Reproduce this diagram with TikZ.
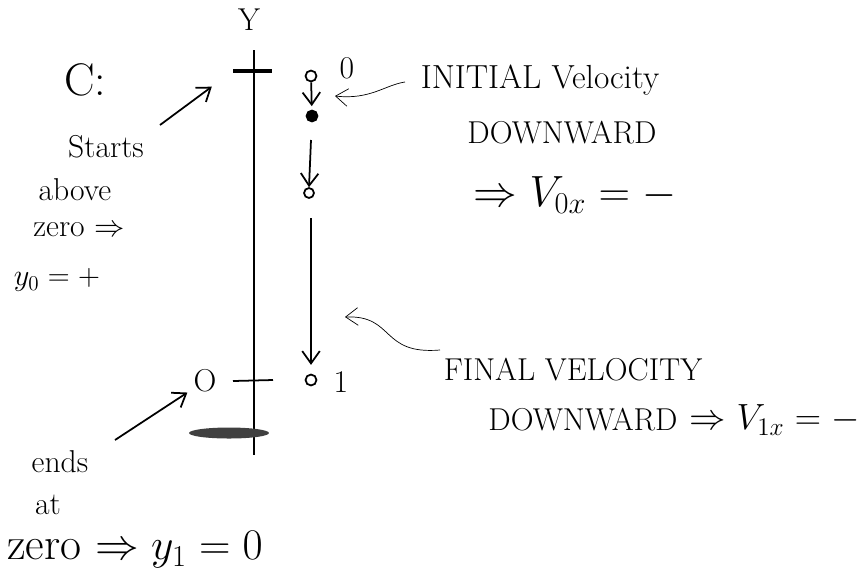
\documentclass[tikz,border=0pt]{standalone}
\usetikzlibrary{arrows.meta,shapes.geometric}
\begin{document}
\begin{tikzpicture}[x=0.02cm,y=-0.02cm,
  hand/.style={font=\fontsize{18}{22}\selectfont},
  big/.style={font=\fontsize{26}{30}\selectfont},
  pen/.style={line width=1pt},
  barb/.style={pen,-{Straight Barb[length=7pt,width=10pt]}},
  dot/.style={circle,draw,pen,inner sep=2.2pt}]
\useasboundingbox (0,0) rectangle (864,586);
% y axis with two ticks and the ground
\node[hand] (ylab) at (249,20) {Y};
\coordinate (axtop) at (254,50);
\coordinate (axbot) at (254,455);
\draw[pen] (axtop) -- (axbot);
\coordinate (hiL) at (233,71);
\coordinate (hiR) at (272,71);
\draw[line width=2.5pt] (hiL) -- (hiR);
\coordinate (loL) at (233,381);
\coordinate (loR) at (273,380);
\draw[pen] (loL) -- (loR);
\node[hand] (zlab) at (205,381) {O};
\node[ellipse,fill=black!75,inner sep=0pt,
  minimum width=1.6cm,minimum height=0.22cm] (ground) at (229,433) {};
% positions of the object
\node[dot] (p0) at (311,76) {};
\node[hand] (p0lab) at (347,68) {0};
\node[dot,fill=black] (pm) at (312,116) {};
\draw[barb,shorten >=2pt] (p0) -- (pm);
\coordinate (a1) at (311,140);
\node[dot,inner sep=2pt] (pq) at (309,193) {};
\draw[barb] (a1) -- (pq.north);
\coordinate (a2) at (311,218);
\node[dot] (p1) at (311,380) {};
\node[hand] (p1lab) at (341,382) {1};
\draw[barb,shorten >=5pt] (a2) -- (p1);
% left notes
\node[big] (clab) at (85,80) {C:};
\node[hand] (st1) at (106,147) {Starts};
\node[hand] (st2) at (75,190) {above};
\node[hand] (st3) at (79,230) {zero $\Rightarrow$};
\node[hand] (st4) at (57,280) {$y_0=+$};
\coordinate (sa) at (160,125);
\draw[barb,shorten >=15pt] (sa) -- (hiL);
\node[hand] (en1) at (60,462) {ends};
\node[hand] (en2) at (48,505) {at};
\node[big] (en3) at (135,550) {zero $\Rightarrow y_1=0$};
\coordinate (ea) at (115,440);
\draw[barb] (ea) -- (zlab);
% right notes
\node[font=\fontsize{19}{23}\selectfont] (ini) at (540,80) {INITIAL Velocity};
\node[hand] (inidn) at (562,133) {DOWNWARD};
\node[big] (inivx) at (575,195) {$\Rightarrow V_{0x}=-$};
\coordinate (ia) at (405,82);
\draw[barb,thin] (ia) .. controls (385,85) and (370,100) .. (335,96);
\node[hand] (fin) at (573,370) {FINAL VELOCITY};
\node[hand] (findn) at (583,420) {DOWNWARD};
\node[font=\fontsize{22}{26}\selectfont,anchor=west] (finvx) at (findn.east) {$\Rightarrow V_{1x}=-$};
\coordinate (fa) at (440,350);
\draw[barb,thin] (fa) .. controls (380,355) and (395,315) .. (345,317);
\end{tikzpicture}
\end{document}
